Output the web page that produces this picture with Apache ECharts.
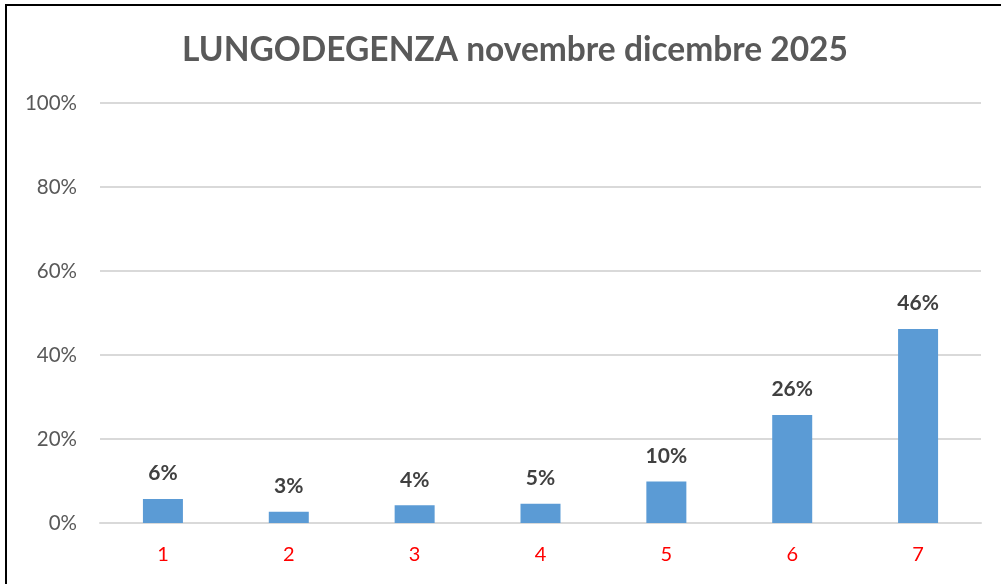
<!DOCTYPE html>
<html>
<head>
<meta charset="utf-8">
<script src="https://cdn.jsdelivr.net/npm/echarts@6/dist/echarts.min.js"></script>
<style>
  html, body { margin: 0; padding: 0; background: #fff; }
  #chart { width: 1001px; height: 584px; }
</style>
</head>
<body>
<div id="chart"></div>
<script>
// categorie e valori (percentuali)
var categorie = ['1', '2', '3', '4', '5', '6', '7'];
var valori = [5.7, 2.7, 4.2, 4.6, 9.9, 25.7, 46.2];
var titolo = 'LUNGODEGENZA novembre dicembre 2025';

var chart = echarts.init(document.getElementById('chart'));
var option = {
  backgroundColor: '#fff',
  animation: false,
  title: {
    text: titolo,
    left: 510,
    top: 28,
    textAlign: 'center',
    textStyle: {
      fontFamily: 'Lato',
      fontWeight: 'bold',
      fontSize: 33.5,
      color: '#595959'
    }
  },
  graphic: [{
    type: 'rect',
    shape: { x: 6, y: 5, width: 1100, height: 700 },
    style: { fill: 'none', stroke: '#000', lineWidth: 2 },
    silent: true
  }],
  grid: {
    left: 100,
    right: 20,
    top: 103,
    bottom: 61
  },
  xAxis: {
    type: 'category',
    data: categorie,
    axisLine: { show: true, lineStyle: { color: '#d9d9d9', width: 2 } },
    axisTick: { show: false },
    axisLabel: {
      color: '#ff0000',
      fontFamily: 'Lato',
      fontSize: 20,
      margin: 22
    }
  },
  yAxis: {
    type: 'value',
    min: 0,
    max: 100,
    interval: 20,
    axisLine: { show: false },
    axisTick: { show: false },
    splitLine: { lineStyle: { color: '#d9d9d9', width: 2 } },
    axisLabel: {
      formatter: '{value}%',
      color: '#595959',
      fontFamily: 'Lato',
      fontSize: 20.5,
      margin: 23
    }
  },
  series: [{
    type: 'bar',
    data: valori,
    barWidth: 40,
    itemStyle: { color: '#5b9bd5' },
    label: {
      show: true,
      position: 'top',
      distance: 15,
      formatter: function (p) { return Math.round(p.value) + '%'; },
      color: '#404040',
      fontFamily: 'Lato',
      fontWeight: 'bold',
      fontSize: 21
    }
  }]
};
chart.setOption(option);
window.onresize = chart.resize;
</script>
</body>
</html>
